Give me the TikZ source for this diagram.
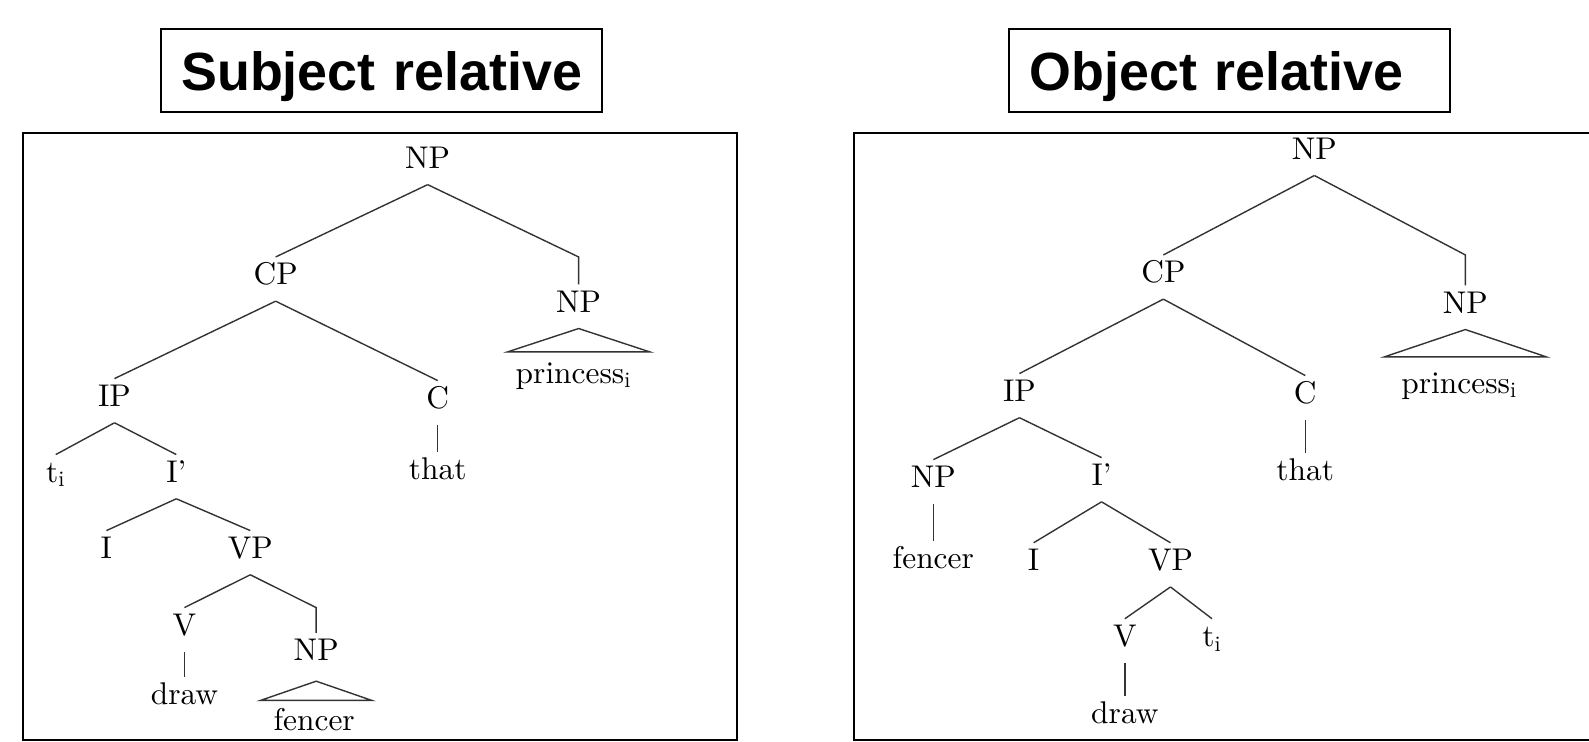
\documentclass[tikz,border=0pt]{standalone}
\usepackage{fontspec}
\newfontfamily\titlefont{Liberation Sans}
\newfontfamily\treefont{lmroman10-regular}[Extension=.otf,Ligatures=TeX]
\usetikzlibrary{calc}
\begin{document}
\begin{tikzpicture}[x=0.5067pt,y=-0.5067pt,
  cat/.style={anchor=base,inner sep=0pt,text height=13.7pt,text depth=8pt,
    font=\treefont\fontsize{15.7}{18}\selectfont},
  edge/.style={line width=0.7pt,black!80},
  frame/.style={line width=1pt},
  titlebox/.style={draw,line width=1pt,anchor=north west,inner xsep=10.1pt,inner ysep=0pt,
    text width=200pt,align=left,text height=30.4pt,text depth=11.1pt,
    font=\titlefont\bfseries\fontsize{26.9}{30}\selectfont}]
\useasboundingbox (0,0) rectangle (1568,732);
\clip (0,0) rectangle (1568,732);

% titles
\node[titlebox] (subjtitle) at (158,28) {\mbox{Subject relative}};
\node[titlebox] (objtitle) at (995,28) {\mbox{Object relative}};

% frames
\draw[frame] (23,131) rectangle (727,730);
\draw[frame] (843,131) rectangle (1600,730);

% ---- subject relative tree ----
\node[cat] (L-np) at (422,166) {NP};
\node[cat] (L-cp) at (272,281) {CP};
\node[cat] (L-np1) at (571,308) {NP};
\node[cat] (L-princess) at (566,378) {princess\textsubscript{i}};
\node[cat] (L-ip) at (113,401) {IP};
\node[cat] (L-c) at (432,403) {C};
\node[cat] (L-that) at (432,473) {that};
\node[cat] (L-t) at (55,476) {t\textsubscript{i}};
\node[cat] (L-ib) at (174,476) {I’};
\node[cat] (L-i) at (105,551) {I};
\node[cat] (L-vp) at (247,551) {VP};
\node[cat] (L-v) at (182,627) {V};
\node[cat] (L-np2) at (312,652) {NP};
\node[cat] (L-draw) at (182,695) {draw};
\node[cat] (L-fencer) at (310,721) {fencer};

\coordinate (L-k1) at (L-np1.north |- L-cp.north);
\coordinate (L-k2) at (L-np2.north |- L-v.north);
\draw[edge] (L-np.south) -- (L-cp.north);
\draw[edge] (L-np.south) -- (L-k1) -- (L-np1.north);
\draw[edge] (L-np1.south) -- ++(-70,23) -- ++(140,0) -- cycle;
\draw[edge] (L-cp.south) -- (L-ip.north);
\draw[edge] (L-cp.south) -- (L-c.north);
\draw[edge] (L-c.south) -- (L-that.north);
\draw[edge] (L-ip.south) -- (L-t.north);
\draw[edge] (L-ip.south) -- (L-ib.north);
\draw[edge] (L-ib.south) -- (L-i.north);
\draw[edge] (L-ib.south) -- (L-vp.north);
\draw[edge] (L-vp.south) -- (L-v.north);
\draw[edge] (L-vp.south) -- (L-k2) -- (L-np2.north);
\draw[edge] (L-v.south) -- (L-draw.north);
\draw[edge] ($(L-np2.south)+(0,4)$) -- ++(-55,19) -- ++(110,0) -- cycle;

% ---- object relative tree ----
\node[cat] (R-np) at (1297,157) {NP};
\node[cat] (R-cp) at (1148,279) {CP};
\node[cat] (R-np1) at (1446,309) {NP};
\node[cat] (R-princess) at (1440,388) {princess\textsubscript{i}};
\node[cat] (R-ip) at (1006,396) {IP};
\node[cat] (R-c) at (1288,398) {C};
\node[cat] (R-that) at (1288,474) {that};
\node[cat] (R-npf) at (921,481) {NP};
\node[cat] (R-fencer) at (921,561) {fencer};
\node[cat] (R-ib) at (1087,479) {I’};
\node[cat] (R-i) at (1020,563) {I};
\node[cat] (R-vp) at (1155,563) {VP};
\node[cat] (R-v) at (1110,638) {V};
\node[cat] (R-t) at (1196,638) {t\textsubscript{i}};
\node[cat] (R-draw) at (1110,714) {draw};

\coordinate (R-k1) at (R-np1.north |- R-cp.north);
\draw[edge] (R-np.south) -- (R-cp.north);
\draw[edge] (R-np.south) -- (R-k1) -- (R-np1.north);
\draw[edge] (R-np1.south) -- ++(-80,27) -- ++(160,0) -- cycle;
\draw[edge] (R-cp.south) -- (R-ip.north);
\draw[edge] (R-cp.south) -- (R-c.north);
\draw[edge] (R-c.south) -- (R-that.north);
\draw[edge] (R-ip.south) -- (R-npf.north);
\draw[edge] (R-ip.south) -- (R-ib.north);
\draw[edge] (R-npf.south) -- (R-fencer.north);
\draw[edge] (R-ib.south) -- (R-i.north);
\draw[edge] (R-ib.south) -- (R-vp.north);
\draw[edge] (R-vp.south) -- (R-v.north);
\draw[edge] (R-vp.south) -- (R-t.north);
\draw[edge] (R-v.south) -- (R-draw.north);
\end{tikzpicture}
\end{document}
